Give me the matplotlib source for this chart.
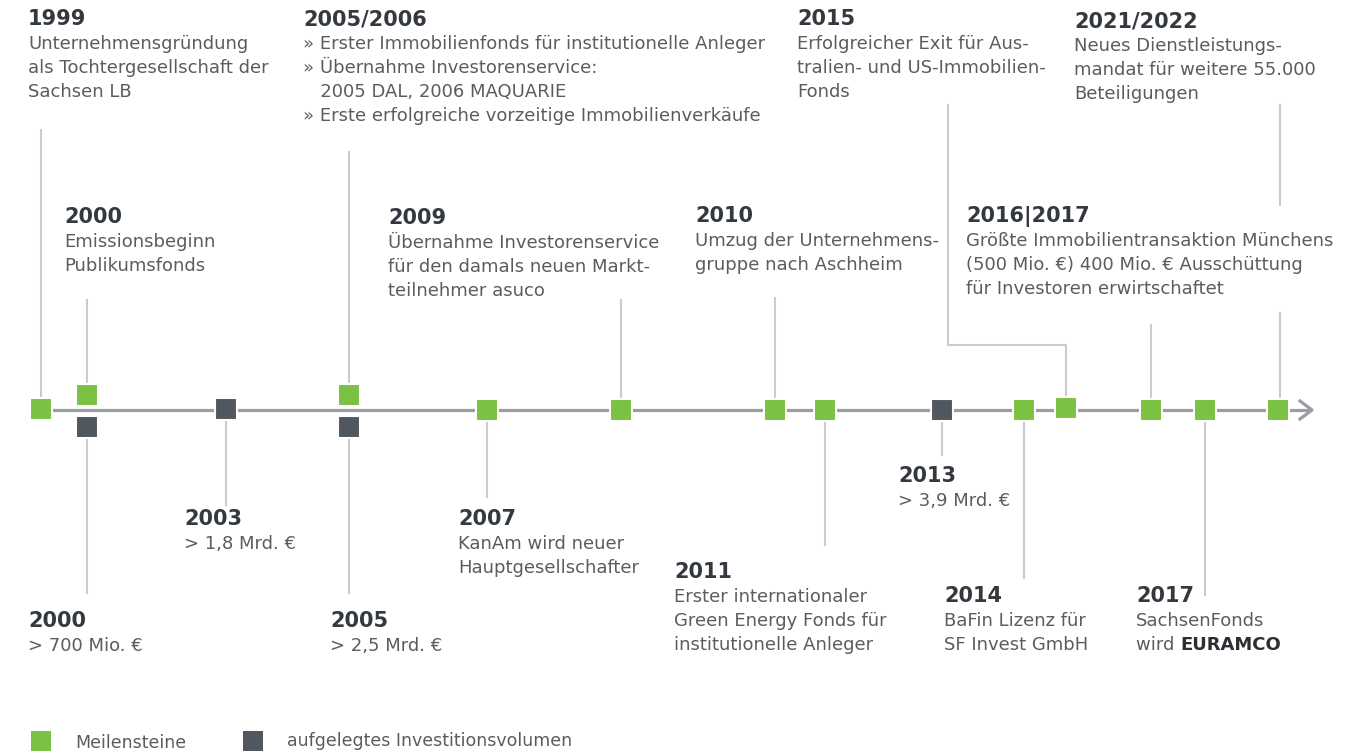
import matplotlib
matplotlib.use("Agg")
import matplotlib.pyplot as plt

plt.rcParams['font.family'] = ['DejaVu Sans']

GREEN = '#7bc143'
DARK = '#50575e'
LINE = '#9a9ea3'
CONN = '#c9cbcd'
TITLE_C = '#33393f'
BODY_C = '#5c5c5c'

# markers on the time axis: x position, y position, kind (g = milestone, d = volume)
mark_x = [41, 87, 87, 226, 349, 349, 487, 621, 775, 825, 942, 1024, 1066, 1151, 1205, 1278]
mark_y = [409, 395, 427, 409, 395, 427, 410, 410, 410, 410, 410, 410, 408, 410, 410, 410]
mark_k = ['g', 'g', 'd', 'd', 'g', 'd', 'g', 'g', 'g', 'g', 'd', 'g', 'g', 'g', 'g', 'g']

# connector lines (polyline x, y)
conn_x = [[41, 41], [87, 87], [87, 87], [226, 226], [349, 349], [349, 349], [487, 487],
          [621, 621], [775, 775], [825, 825], [942, 942], [1024, 1024],
          [948, 948, 1066, 1066], [1151, 1151], [1205, 1205], [1280, 1280], [1280, 1280]]
conn_y = [[130, 396], [300, 383], [439, 593], [421, 505], [152, 383], [439, 593], [421, 497],
          [300, 398], [298, 398], [421, 545], [421, 455], [421, 578],
          [105, 345, 345, 396], [325, 398], [421, 595], [105, 205], [313, 398]]

# text blocks: title, body lines, left x, title y
titles = ['1999', '2005/2006', '2015', '2021/2022', '2000', '2009', '2010', '2016|2017',
          '2003', '2007', '2013', '2011', '2000', '2005', '2014', '2017']
bodies = [
    ['Unternehmensgründung', 'als Tochtergesellschaft der', 'Sachsen LB'],
    ['» Erster Immobilienfonds für institutionelle Anleger', '» Übernahme Investorenservice:',
     '   2005 DAL, 2006 MAQUARIE', '» Erste erfolgreiche vorzeitige Immobilienverkäufe'],
    ['Erfolgreicher Exit für Aus-', 'tralien- und US-Immobilien-', 'Fonds'],
    ['Neues Dienstleistungs-', 'mandat für weitere 55.000', 'Beteiligungen'],
    ['Emissionsbeginn', 'Publikumsfonds'],
    ['Übernahme Investorenservice', 'für den damals neuen Markt-', 'teilnehmer asuco'],
    ['Umzug der Unternehmens-', 'gruppe nach Aschheim'],
    ['Größte Immobilientransaktion Münchens', '(500 Mio. €) 400 Mio. € Ausschüttung',
     'für Investoren erwirtschaftet'],
    ['> 1,8 Mrd. €'],
    ['KanAm wird neuer', 'Hauptgesellschafter'],
    ['> 3,9 Mrd. €'],
    ['Erster internationaler', 'Green Energy Fonds für', 'institutionelle Anleger'],
    ['> 700 Mio. €'],
    ['> 2,5 Mrd. €'],
    ['BaFin Lizenz für', 'SF Invest GmbH'],
    ['SachsenFonds', 'wird '],
]
text_x = [28, 303, 797, 1074, 64, 388, 695, 966, 184, 458, 898, 674, 28, 330, 944, 1136]
text_y = [19, 19, 19, 21, 217, 218, 216, 216, 519, 519, 476, 572, 621, 621, 596, 596]

legend_labels = ['Meilensteine', 'aufgelegtes Investitionsvolumen']

fig = plt.figure(figsize=(13.61, 7.53), dpi=100)
ax = fig.add_axes([0, 0, 1, 1])
ax.set_xlim(0, 1361)
ax.set_ylim(753, 0)
ax.set_axis_off()

# main time line + arrow head
ax.plot([52, 1310], [410, 410], color=LINE, lw=2.3, solid_capstyle='butt', zorder=1)
ax.plot([1300, 1312, 1300], [401, 410, 419], color=LINE, lw=2.3, zorder=1)

for xs, ys in zip(conn_x, conn_y):
    ax.plot(xs, ys, color=CONN, lw=1.5, zorder=1)

for x, y, k in zip(mark_x, mark_y, mark_k):
    ax.plot(x, y, marker='s', ms=16, color=GREEN if k == 'g' else DARK,
            mec='white', mew=1.5, zorder=3)

last = None
for t, lines, x, y in zip(titles, bodies, text_x, text_y):
    ax.text(x, y, t, fontsize=15, fontweight='bold', color=TITLE_C, va='center', ha='left')
    for i, ln in enumerate(lines):
        last = ax.text(x, y + 25 + 24 * i, ln, fontsize=13, color=BODY_C,
                       va='center', ha='left')

ax.annotate('EURAMCO', xy=(1, 0.5), xycoords=last, va='center', ha='left',
            fontsize=13, fontweight='bold', color='#2b2f33')

# legend
ax.plot(41, 741, marker='s', ms=15, color=GREEN, mec='white', mew=0)
ax.text(75, 743, legend_labels[0], fontsize=12.5, color=BODY_C, va='center')
ax.plot(253, 741, marker='s', ms=15, color=DARK, mec='white', mew=0)
ax.text(287, 741, legend_labels[1], fontsize=12.5, color=BODY_C, va='center')

fig.savefig('out.png', dpi=100)
